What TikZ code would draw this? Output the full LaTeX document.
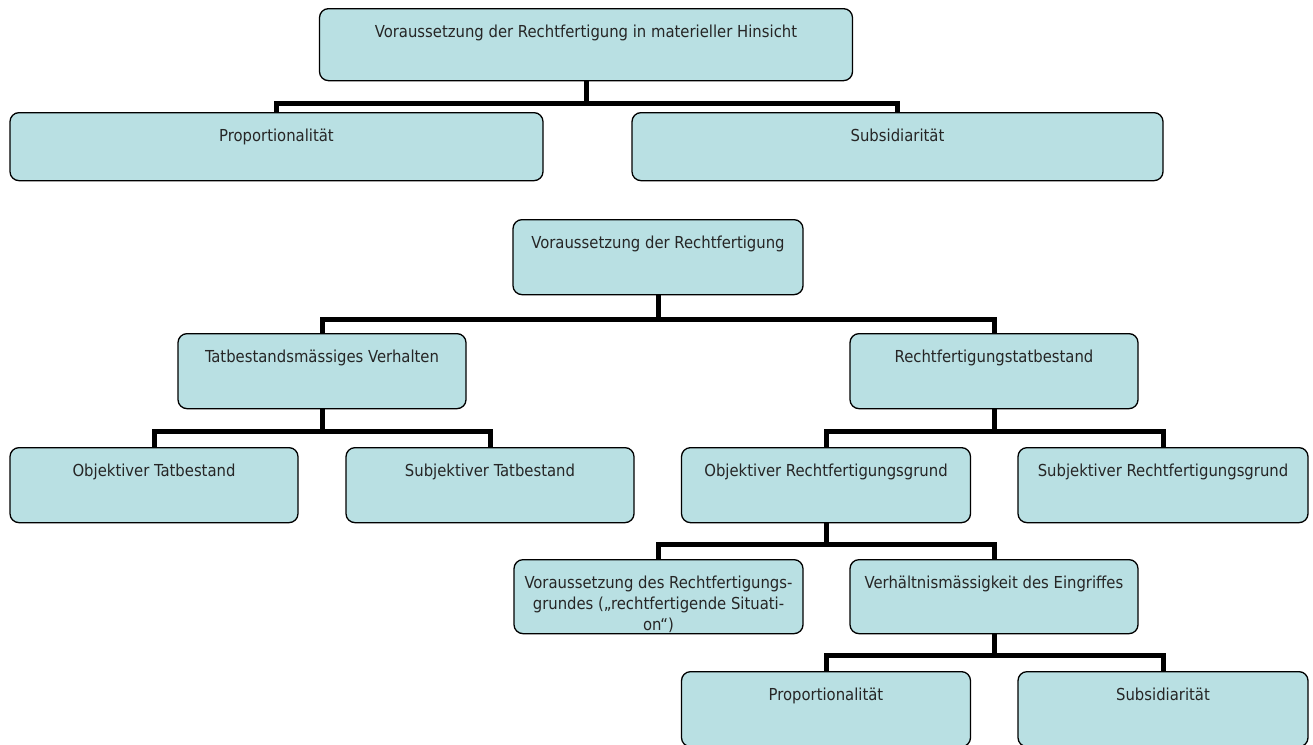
\documentclass[tikz,border=0pt]{standalone}
\usepackage{fontspec}
\usepackage{tikz}
\usepackage{xcolor}
\newfontfamily\boxfont{DejaVu Sans Condensed}
\definecolor{boxfill}{RGB}{185,224,227}
\usetikzlibrary{positioning, calc}

\begin{document}
\begin{tikzpicture}[x=1pt, y=-1pt,
    box/.style={draw, fill=boxfill, rounded corners=9pt, line width=1.3pt, inner sep=0pt,
        anchor=north, text height=29pt, text depth=46pt, minimum width=288pt,
        font=\boxfont\fontsize{16.5}{21}\selectfont, text=black!85},
    link/.style={line width=5pt}]
\useasboundingbox (0,0) rectangle (1313,744);
\clip (0,0) rectangle (1313,744);

% Upper tree
\node[box, minimum width=533pt, text depth=43pt] (vrm) at (586,8) {Voraussetzung der Rechtfertigung in materieller Hinsicht};
\node[box, minimum width=533pt, text depth=39pt] (prop) at (276.5,112) {Proportionalität};
\node[box, minimum width=531pt, text depth=39pt] (subs) at (897.5,112) {Subsidiarität};
\foreach \c in {prop,subs}
    \draw[link] (vrm.south) -- ++(0,22) -| (\c.north);

% Lower tree
\node[box, minimum width=290pt] (vr) at (658,219) {Voraussetzung der Rechtfertigung};
\node[box] (tv) at (322,333) {Tatbestandsmässiges Verhalten};
\node[box] (rt) at (994,333) {Rechtfertigungstatbestand};
\node[box] (otb) at (154,447) {Objektiver Tatbestand};
\node[box] (stb) at (490,447) {Subjektiver Tatbestand};
\node[box, minimum width=289pt] (org) at (826,447) {Objektiver Rechtfertigungsgrund};
\node[box, minimum width=290pt] (srg) at (1163,447) {Subjektiver Rechtfertigungsgrund};
\node[box, minimum width=289pt, text depth=45pt] (vsit) at (658.5,559) {\begin{tabular}[t]{@{}c@{}}Voraussetzung des Rechtfertigungs-\\grundes („rechtfertigende Situati-\\on“)\end{tabular}};
\node[box, text depth=45pt] (verh) at (994,559) {Verhältnismässigkeit des Eingriffes};
\node[box, minimum width=289pt] (prop2) at (826,671) {Proportionalität};
\node[box, minimum width=290pt] (subs2) at (1163,671) {Subsidiarität};

\foreach \p/\c/\d in {vr/tv/24, vr/rt/24, tv/otb/22, tv/stb/22, rt/org/22, rt/srg/22,
    org/vsit/21, org/verh/21, verh/prop2/21, verh/subs2/21}
    \draw[link] (\p.south) -- ++(0,\d) -| (\c.north);
\end{tikzpicture}
\end{document}
